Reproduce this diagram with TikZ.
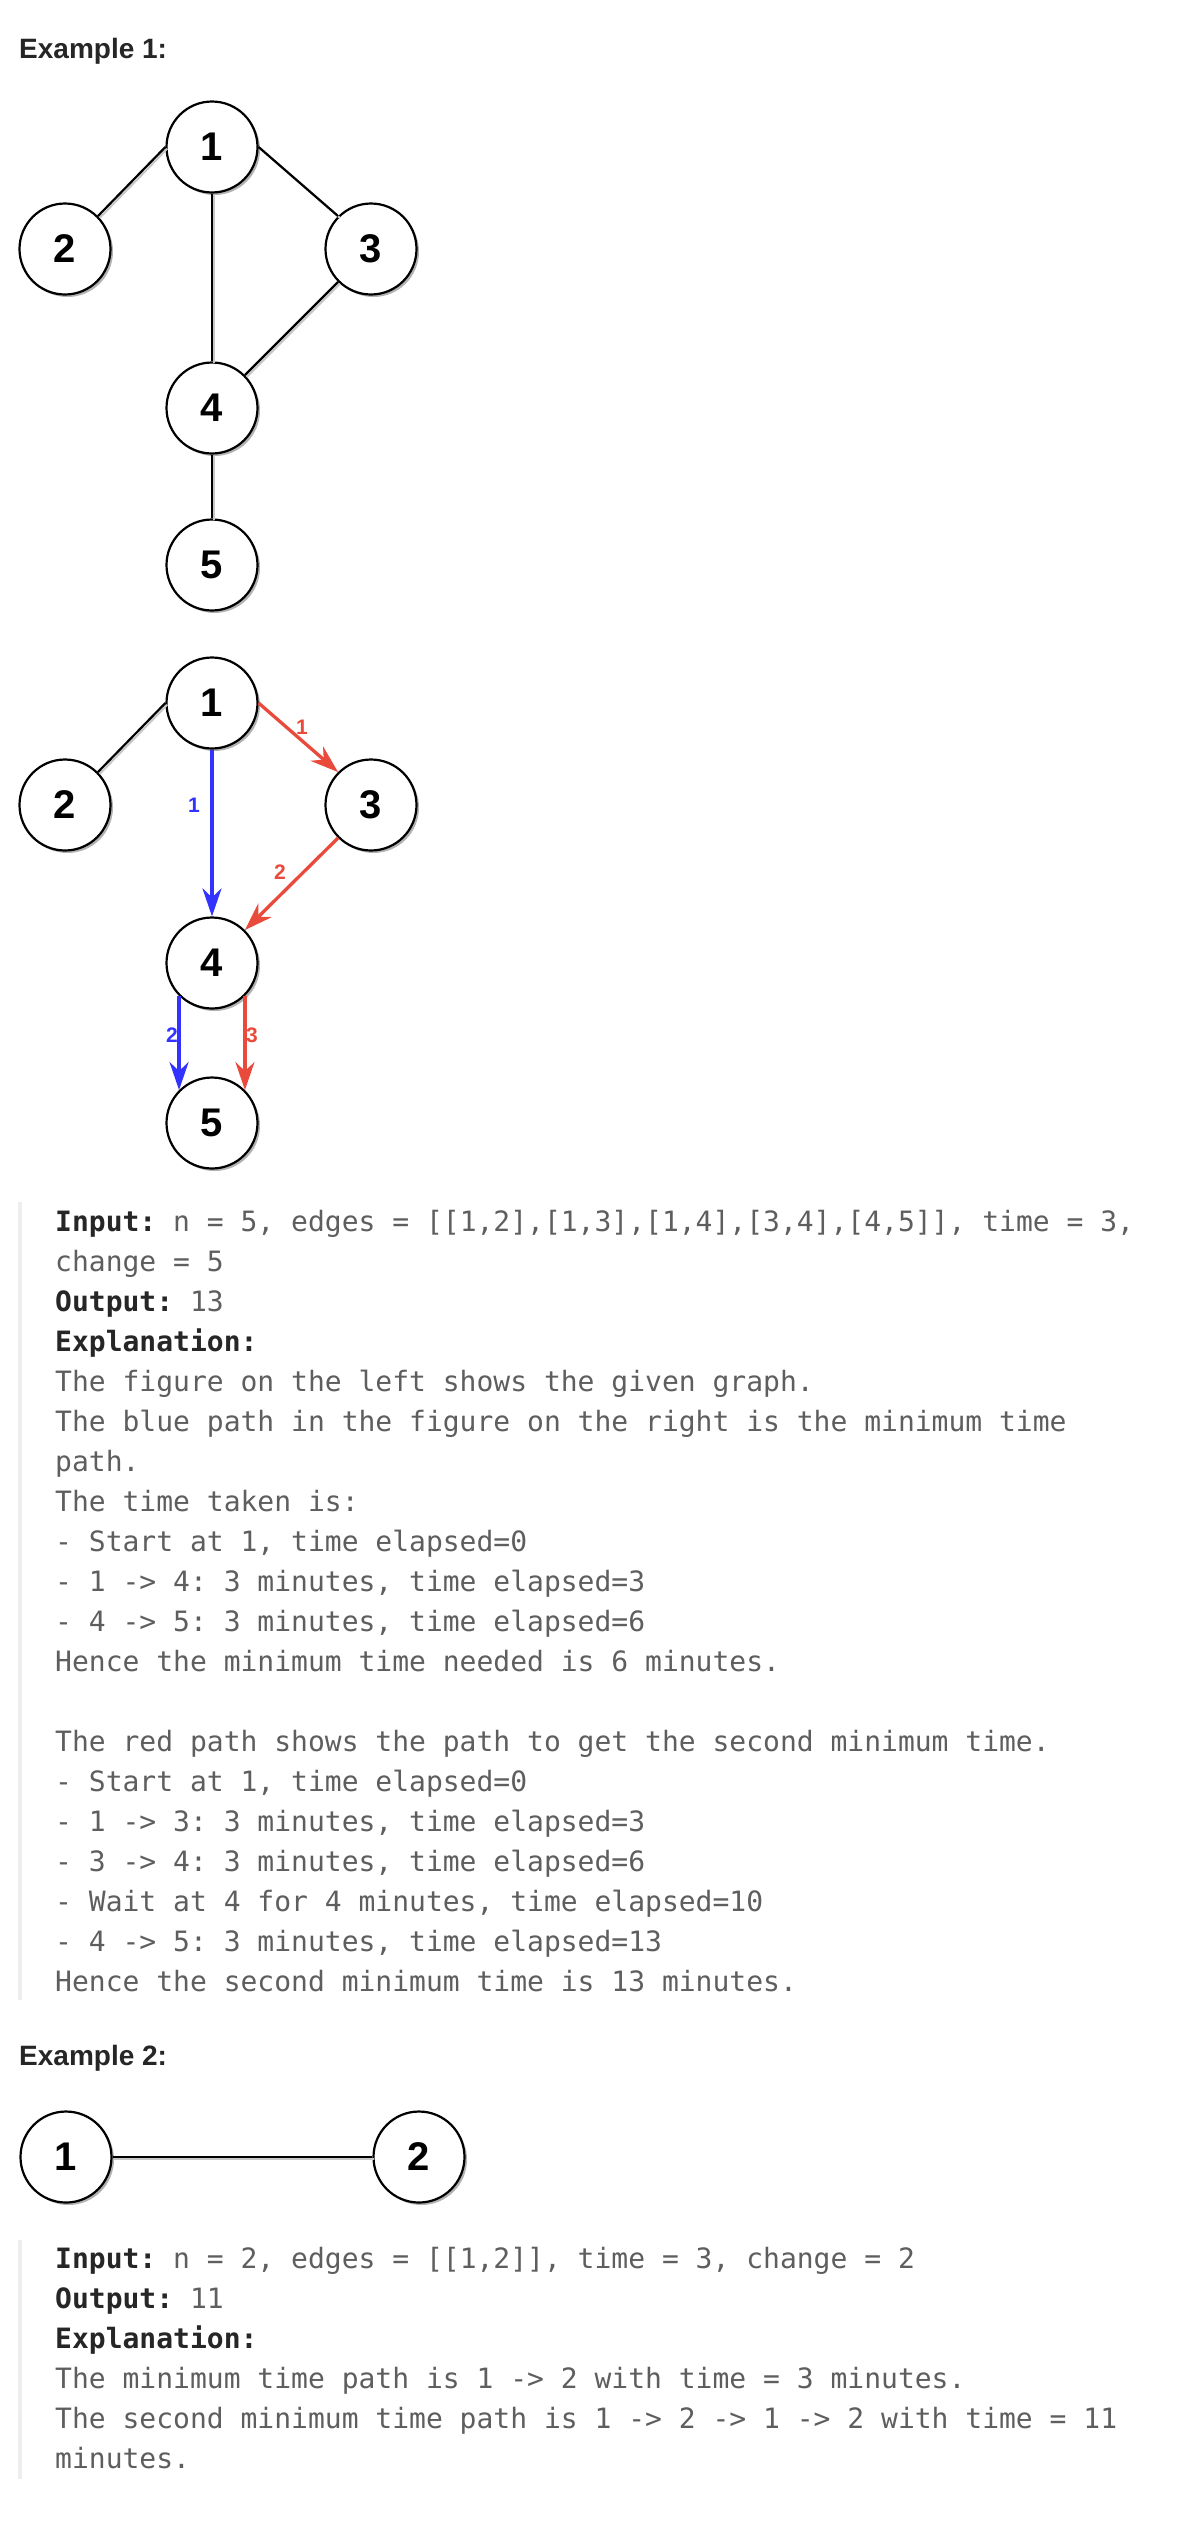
\documentclass[tikz,border=0pt]{standalone}
\usepackage{fontspec}
\setmainfont{Liberation Sans}
\setmonofont{DejaVu Sans Mono}
\usetikzlibrary{arrows.meta,shadows}
\definecolor{hd}{HTML}{262626}
\definecolor{tx}{HTML}{5E5E5E}
\definecolor{barc}{HTML}{EEEEEE}
\definecolor{bl}{HTML}{3333FF}
\definecolor{rd}{HTML}{EA4A3C}
\newcommand{\kwd}[1]{{\color{hd}\bfseries #1}}
\begin{document}
\begin{tikzpicture}[x=1pt,y=-1pt,
  vert/.style={circle,draw=black,fill=white,line width=2.2pt,minimum size=91pt,inner sep=0pt,
    font=\fontsize{40}{40}\selectfont\bfseries,
    drop shadow={shadow xshift=2.5pt,shadow yshift=-2.5pt,opacity=0.3,fill=black}},
  edge/.style={line width=2.2pt,draw=black},
  eshadow/.style={line width=2pt,draw=black!22,transform canvas={shift={(1.8pt,-1.8pt)}}},
  arr/.style={line width=3.3pt,-{Stealth[length=28pt,width=19pt,inset=9pt]}},
  elab/.style={font=\fontsize{21}{21}\selectfont\bfseries,inner sep=0pt},
  heading/.style={anchor=base west,inner sep=0pt,font=\fontsize{28}{28}\selectfont\bfseries,text=hd},
  code/.style={anchor=base west,inner sep=0pt,font=\ttfamily\fontsize{28}{28}\selectfont,text=tx},
  barline/.style={draw=barc,line width=4pt}
]
\fill[white] (0,0) rectangle (1180,2524);
\useasboundingbox (0,0) rectangle (1180,2524);

% ---------- Example 1 heading
\node[heading] (h1) at (19,58) {Example 1:};

% ---------- Graph A
\node[vert] (a1) at (212,147) {1};
\node[vert] (a2) at (65,249) {2};
\node[vert] (a3) at (371,249) {3};
\node[vert] (a4) at (212,408) {4};
\node[vert] (a5) at (212,565) {5};
\foreach \u/\v in {a1.west/a2.45,a1.east/a3.135,a1.south/a4.north,a3.225/a4.45,a4.south/a5.north}{
  \draw[eshadow] (\u) -- (\v);
  \draw[edge] (\u) -- (\v);
}

% ---------- Graph B
\node[vert] (b1) at (212,703) {1};
\node[vert] (b2) at (65,805) {2};
\node[vert] (b3) at (371,805) {3};
\node[vert] (b4) at (212,963) {4};
\node[vert] (b5) at (212,1123) {5};
\draw[eshadow] (b1.west) -- (b2.45);
\draw[edge] (b1.west) -- (b2.45);
\draw[arr,bl] (b1.south) -- (b4.north);
\draw[arr,rd] (b1.east) -- (b3.135);
\draw[arr,rd] (b3.225) -- (b4.45);
\draw[arr,bl] (b4.225) -- (b5.135);
\draw[arr,rd] (b4.315) -- (b5.45);
\node[elab,text=bl] (l1) at (194,805) {1};
\node[elab,text=rd] (l2) at (302,727) {1};
\node[elab,text=rd] (l3) at (280,872) {2};
\node[elab,text=bl] (l4) at (172,1035) {2};
\node[elab,text=rd] (l5) at (252,1035) {3};

% ---------- Example 1 text
\coordinate (bar1s) at (20,1202);
\coordinate (bar1e) at (20,2000);
\draw[barline] (bar1s) -- (bar1e);
\node[code] (t1) at (55,1231) {\kwd{Input:} n = 5, edges = [[1,2],[1,3],[1,4],[3,4],[4,5]], time = 3,};
\node[code] (t2) at (55,1271) {change = 5};
\node[code] (t3) at (55,1311) {\kwd{Output:} 13};
\node[code] (t4) at (55,1351) {\kwd{Explanation:}};
\node[code] (t5) at (55,1391) {The figure on the left shows the given graph.};
\node[code] (t6) at (55,1431) {The blue path in the figure on the right is the minimum time};
\node[code] (t7) at (55,1471) {path.};
\node[code] (t8) at (55,1511) {The time taken is:};
\node[code] (t9) at (55,1551) {- Start at 1, time elapsed=0};
\node[code] (t10) at (55,1591) {- 1 -> 4: 3 minutes, time elapsed=3};
\node[code] (t11) at (55,1631) {- 4 -> 5: 3 minutes, time elapsed=6};
\node[code] (t12) at (55,1671) {Hence the minimum time needed is 6 minutes.};
\node[code] (t14) at (55,1751) {The red path shows the path to get the second minimum time.};
\node[code] (t15) at (55,1791) {- Start at 1, time elapsed=0};
\node[code] (t16) at (55,1831) {- 1 -> 3: 3 minutes, time elapsed=3};
\node[code] (t17) at (55,1871) {- 3 -> 4: 3 minutes, time elapsed=6};
\node[code] (t18) at (55,1911) {- Wait at 4 for 4 minutes, time elapsed=10};
\node[code] (t19) at (55,1951) {- 4 -> 5: 3 minutes, time elapsed=13};
\node[code] (t20) at (55,1991) {Hence the second minimum time is 13 minutes.};

% ---------- Example 2
\node[heading] (h2) at (19,2065) {Example 2:};
\node[vert] (c1) at (66,2157) {1};
\node[vert] (c2) at (419,2157) {2};
\draw[eshadow] (c1.east) -- (c2.west);
\draw[edge] (c1.east) -- (c2.west);

\coordinate (bar2s) at (20,2240);
\coordinate (bar2e) at (20,2479);
\draw[barline] (bar2s) -- (bar2e);
\node[code] (u1) at (55,2268) {\kwd{Input:} n = 2, edges = [[1,2]], time = 3, change = 2};
\node[code] (u2) at (55,2308) {\kwd{Output:} 11};
\node[code] (u3) at (55,2348) {\kwd{Explanation:}};
\node[code] (u4) at (55,2388) {The minimum time path is 1 -> 2 with time = 3 minutes.};
\node[code] (u5) at (55,2428) {The second minimum time path is 1 -> 2 -> 1 -> 2 with time = 11};
\node[code] (u6) at (55,2468) {minutes.};
\end{tikzpicture}
\end{document}
